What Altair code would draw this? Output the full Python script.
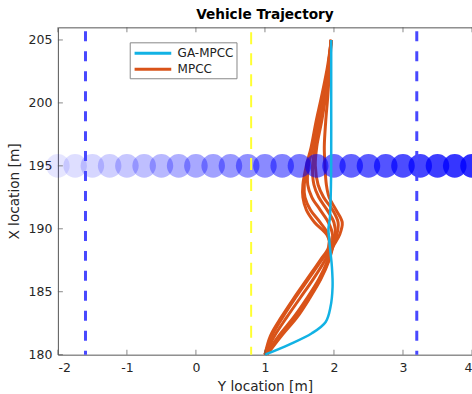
import altair as alt
import pandas as pd

# ---------------- data ----------------
GA_X = [180.0, 180.8, 181.7, 182.6, 183.8, 185.4, 187.0, 188.1, 189.2, 190.0, 190.8, 192.0, 195.0, 200.0, 205.0]
GA_Y = [1.00, 1.35, 1.68, 1.88, 1.95, 1.98, 1.97, 1.95, 1.93, 1.92, 1.94, 1.95, 1.96, 1.96, 1.96]

MPCC_X = [180.0, 181.5, 183.0, 184.5, 186.0, 187.5, 188.5, 189.5, 190.5, 191.5, 192.5, 193.5, 195.0, 196.5, 198.5, 200.5, 203.0, 205.0]
MPCC_RUNS = [
    [1.00, 1.22, 1.45, 1.63, 1.80, 1.92, 1.98, 2.08, 2.12, 2.03, 1.93, 1.89, 1.87, 1.86, 1.88, 1.91, 1.94, 1.96],
    [1.00, 1.10, 1.26, 1.44, 1.63, 1.82, 1.94, 1.90, 1.72, 1.60, 1.55, 1.55, 1.60, 1.67, 1.74, 1.82, 1.91, 1.96],
    [1.00, 1.14, 1.32, 1.51, 1.70, 1.87, 1.96, 1.98, 1.92, 1.80, 1.68, 1.62, 1.63, 1.69, 1.77, 1.85, 1.92, 1.96],
    [1.03, 1.24, 1.47, 1.65, 1.81, 1.93, 1.98, 2.02, 2.00, 1.90, 1.78, 1.71, 1.69, 1.73, 1.80, 1.87, 1.93, 1.96],
    [1.00, 1.08, 1.24, 1.42, 1.61, 1.80, 1.92, 1.92, 1.80, 1.66, 1.58, 1.57, 1.62, 1.70, 1.78, 1.86, 1.92, 1.96],
    [1.01, 1.20, 1.42, 1.61, 1.78, 1.91, 1.97, 2.04, 2.06, 1.98, 1.85, 1.77, 1.73, 1.75, 1.82, 1.88, 1.93, 1.96],
]

OBST_Y = [-2.0, -1.75, -1.5, -1.25, -1.0, -0.75, -0.5, -0.25, 0.0, 0.25, 0.5, 0.75, 1.0,
          1.25, 1.5, 1.75, 2.0, 2.25, 2.5, 2.75, 3.0, 3.25, 3.5, 3.75, 4.0]
OBST_X = 195.0

LANE_EDGES = [-1.6, 3.2]
CENTER_LINE = [0.8]

X_TICKS = [-2, -1, 0, 1, 2, 3, 4]
Y_TICKS = [180, 185, 190, 195, 200, 205]

SERIES = ["GA-MPCC", "MPCC"]
COLORS = ["#12B2E4", "#D95319"]

# ---------------- frames ----------------
ga_df = pd.DataFrame({"ylat": GA_Y, "xlon": GA_X, "ord": range(len(GA_X)),
                      "series": "GA-MPCC", "run": 0})
rows = []
for r, run in enumerate(MPCC_RUNS):
    for i, (xv, yv) in enumerate(zip(MPCC_X, run)):
        rows.append({"ylat": yv, "xlon": xv, "ord": i, "series": "MPCC", "run": r})
mp_df = pd.DataFrame(rows)

n = len(OBST_Y)
obst_df = pd.DataFrame({"ylat": OBST_Y, "xlon": [OBST_X] * n,
                        "op": [0.10 + 0.03 * i for i in range(n)]})

W, H = 415, 328
xs = alt.Scale(domain=[-2, 4], nice=False, zero=False)
ys = alt.Scale(domain=[180, 206], nice=False, zero=False)
cs = alt.Scale(domain=SERIES, range=COLORS)

xenc = alt.X("ylat:Q", scale=xs,
             axis=alt.Axis(title="Y location [m]", values=X_TICKS, ticks=False, domain=False,
                           grid=False, labelPadding=7, titlePadding=5,
                           labelExpr="'' + datum.value"))
yenc = alt.Y("xlon:Q", scale=ys,
             axis=alt.Axis(title="X location [m]", values=Y_TICKS, ticks=False, domain=False,
                           grid=False, labelPadding=6, titlePadding=7,
                           labelExpr="'' + datum.value"))

legend = alt.Legend(title=None, orient="none", legendX=72, legendY=15,
                    symbolType="M-1,0H5", symbolSize=150, symbolStrokeWidth=3,
                    labelFontSize=12, labelFont="DejaVu Sans", labelColor="#222",
                    strokeColor="#888", fillColor="white", padding=3, rowPadding=2,
                    labelOffset=29, cornerRadius=0)

mp_layer = alt.Chart(mp_df).mark_line(strokeWidth=3, interpolate="catmull-rom").encode(
    x=xenc, y=yenc,
    color=alt.Color("series:N", scale=cs, legend=legend),
    detail="run:N", order="ord:Q")

ga_layer = alt.Chart(ga_df).mark_line(strokeWidth=2.5, interpolate="catmull-rom").encode(
    x="ylat:Q", y="xlon:Q",
    color=alt.Color("series:N", scale=cs, legend=legend),
    order="ord:Q")

obst_layer = alt.Chart(obst_df).mark_circle(size=560, color="#0000FF", clip=False).encode(
    x="ylat:Q", y="xlon:Q", opacity=alt.Opacity("op:Q", scale=None))

edge_layer = alt.Chart(pd.DataFrame({"ylat": LANE_EDGES})).mark_rule(
    color="#4848FF", strokeWidth=3, strokeDash=[10, 10], strokeDashOffset=16).encode(x="ylat:Q")

center_layer = alt.Chart(pd.DataFrame({"ylat": CENTER_LINE})).mark_rule(
    color="#FFFF33", strokeWidth=2, strokeDash=[12, 9], strokeDashOffset=16).encode(x="ylat:Q")

xt = pd.DataFrame({"ylat": X_TICKS})
yt = pd.DataFrame({"xlon": Y_TICKS})
xtick_b = alt.Chart(xt).mark_tick(orient="vertical", size=5, thickness=1, color="#555").encode(
    x="ylat:Q", y=alt.value(H - 2.5))
xtick_t = alt.Chart(xt).mark_tick(orient="vertical", size=5, thickness=1, color="#555").encode(
    x="ylat:Q", y=alt.value(2.5))
ytick_l = alt.Chart(yt).mark_tick(orient="horizontal", size=5, thickness=1, color="#555").encode(
    y="xlon:Q", x=alt.value(2.5))

chart = alt.layer(
    mp_layer, obst_layer, edge_layer, center_layer, ga_layer, xtick_b, xtick_t, ytick_l
).properties(
    width=W, height=H,
    title=alt.Title("Vehicle Trajectory", fontSize=13.7, fontWeight="bold",
                    font="DejaVu Sans", color="#000", offset=4, anchor="middle"),
    autosize=alt.AutoSizeParams(type="none"),
    padding={"left": 58, "top": 27, "right": 0, "bottom": 39},
).configure_view(
    stroke="#555", strokeWidth=1
).configure_axis(
    labelFont="DejaVu Sans", titleFont="DejaVu Sans", labelFontSize=12.5, titleFontSize=13.7,
    labelColor="#262626", titleColor="#262626", titleFontWeight="normal"
)

chart.save("out.html", embed_options={"renderer": "svg", "actions": False})
